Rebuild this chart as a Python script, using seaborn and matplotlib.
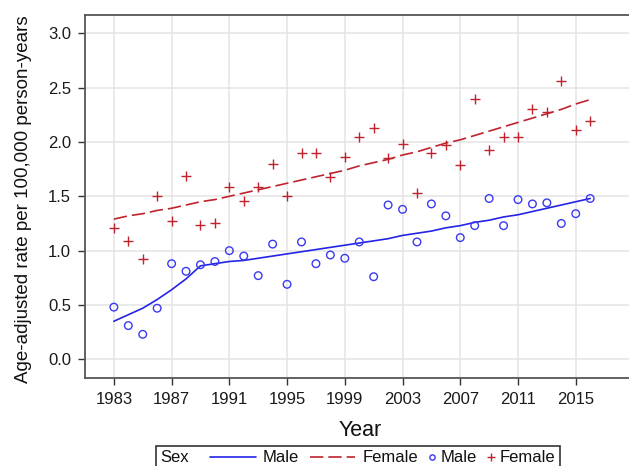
import matplotlib
matplotlib.use("Agg")
import matplotlib.pyplot as plt
import seaborn as sns
import numpy as np
import pandas as pd
from matplotlib.lines import Line2D
from matplotlib.offsetbox import HPacker, TextArea, DrawingArea, AnchoredOffsetbox

sns.set_style("white")
plt.rcParams['font.family'] = ['Liberation Sans', 'DejaVu Sans']

years = list(range(1983, 2017))

male_obs = [0.48, 0.31, 0.23, 0.47, 0.88, 0.81, 0.87, 0.90, 1.00, 0.95,
            0.77, 1.06, 0.69, 1.08, 0.88, 0.96, 0.93, 1.08, 0.76, 1.42,
            1.38, 1.08, 1.43, 1.32, 1.12, 1.23, 1.48, 1.23, 1.47, 1.43,
            1.44, 1.25, 1.34, 1.48]
female_obs = [1.21, 1.09, 0.92, 1.50, 1.27, 1.69, 1.24, 1.25, 1.59, 1.46,
              1.59, 1.80, 1.50, 1.90, 1.90, 1.68, 1.86, 2.05, 2.13, 1.85,
              1.98, 1.53, 1.90, 1.97, 1.79, 2.40, 1.93, 2.05, 2.05, 2.30,
              2.28, 2.56, 2.11, 2.19]
male_fit = [0.35, 0.41, 0.47, 0.55, 0.64, 0.74, 0.86, 0.88, 0.90, 0.91,
            0.93, 0.95, 0.97, 0.99, 1.01, 1.03, 1.05, 1.07, 1.09, 1.11,
            1.14, 1.16, 1.18, 1.21, 1.23, 1.26, 1.28, 1.31, 1.33, 1.36,
            1.39, 1.42, 1.45, 1.48]
female_fit = [1.29, 1.32, 1.34, 1.37, 1.39, 1.42, 1.45, 1.47, 1.50, 1.53,
              1.56, 1.59, 1.62, 1.65, 1.68, 1.71, 1.74, 1.78, 1.81, 1.84,
              1.88, 1.91, 1.95, 1.99, 2.02, 2.06, 2.10, 2.14, 2.18, 2.22,
              2.26, 2.30, 2.35, 2.39]

x_ticks = list(range(1983, 2016, 4))
y_ticks = [0.0, 0.5, 1.0, 1.5, 2.0, 2.5, 3.0]

MALE_C = '#2424e6'
FEMALE_C = '#c0232c'
MALE_PT = '#3a3af2'
DASH = (8, 3)

obs = pd.DataFrame({'Year': years * 2,
                    'Rate': male_obs + female_obs,
                    'Sex': ['Male'] * len(years) + ['Female'] * len(years)})
fit = pd.DataFrame({'Year': years * 2,
                    'Rate': male_fit + female_fit,
                    'Sex': ['Male'] * len(years) + ['Female'] * len(years)})

fig = plt.figure(figsize=(6.29, 4.66), dpi=100)
W, H = 629, 466
left, right, top, bottom = 85, 629, 15.3, 378.3
ax = fig.add_axes([left / W, 1 - bottom / H, (right - left) / W, (bottom - top) / H])

ax.grid(True, color='#e4e4e4', lw=1.1, zorder=0)
ax.set_axisbelow(True)

sns.lineplot(data=fit, x='Year', y='Rate', hue='Sex', style='Sex',
             palette={'Male': MALE_C, 'Female': FEMALE_C},
             dashes={'Male': '', 'Female': DASH},
             lw=1.2, legend=False, ax=ax, zorder=3)
sns.scatterplot(data=obs[obs.Sex == 'Male'], x='Year', y='Rate', marker='o',
                s=30, facecolor='none', edgecolor=MALE_PT, linewidth=1.0,
                legend=False, ax=ax, zorder=4)
sns.scatterplot(data=obs[obs.Sex == 'Female'], x='Year', y='Rate', marker='+',
                s=42, color=FEMALE_C, linewidth=1.0,
                legend=False, ax=ax, zorder=4)

ax.set_xlim(1981.0, 2018.69)
ax.set_ylim(-0.175, 3.166)
ax.set_xticks(x_ticks)
ax.set_xticklabels([str(t) for t in x_ticks])
ax.set_yticks(y_ticks)
ax.set_yticklabels([f'{t:.1f}' for t in y_ticks])
ax.tick_params(axis='both', direction='out', length=5, width=1.0, color='#333333',
               labelsize=12, labelcolor='#1a1a1a', pad=5, bottom=True, left=True)

for s in ['left', 'top', 'bottom']:
    ax.spines[s].set_color('#555555')
    ax.spines[s].set_linewidth(1.3)
ax.spines['right'].set_visible(False)

ax.set_xlabel('Year', fontsize=15.5, color='#111111')
ax.xaxis.label.set_va('center')
ax.xaxis.set_label_coords((360 - left) / (right - left), (bottom - 431) / (bottom - top))
ax.set_ylabel('Age-adjusted rate per 100,000 person-years', fontsize=13.5, color='#111111')
ax.yaxis.label.set_va('center')
ax.yaxis.set_label_coords((24 - left) / (right - left), (bottom - 199) / (bottom - top))

# legend strip
fs = 12
tp = dict(fontsize=fs, color='#111111')


def line_handle(color, dashes, width=33):
    da = DrawingArea(width, 8, 0, 0)
    ln = Line2D([0, width], [4, 4], color=color, lw=1.2)
    if dashes:
        ln.set_dashes(dashes)
    da.add_artist(ln)
    return da


def marker_handle(marker, color):
    da = DrawingArea(5, 8, 0, 0)
    da.add_artist(Line2D([2.5], [4], marker=marker,
                         markersize=3.8 if marker == 'o' else 5.5, lw=0,
                         markeredgewidth=1.0, markeredgecolor=color,
                         markerfacecolor='none'))
    return da


def entry(h, label, sep):
    return HPacker(children=[h, TextArea(label, textprops=tp)], align='center', pad=0, sep=sep)


items = HPacker(children=[
    entry(line_handle(MALE_C, None), 'Male', 5),
    entry(line_handle(FEMALE_C, DASH), 'Female', 5),
    entry(marker_handle('o', MALE_PT), 'Male', 4),
    entry(marker_handle('+', FEMALE_C), 'Female', 4),
], align='center', pad=0, sep=7.5)
row = HPacker(children=[TextArea('Sex', textprops=tp), items],
              align='center', pad=0, sep=15.5)
box = AnchoredOffsetbox(loc='upper center', child=row, pad=0.3, borderpad=0, frameon=True,
                        bbox_to_anchor=(357.8 / W, 1 - 445.5 / H), bbox_transform=fig.transFigure)
box.patch.set_edgecolor('#333333')
box.patch.set_linewidth(1.2)
box.patch.set_boxstyle('square', pad=0)
fig.add_artist(box)

fig.savefig('out.png', dpi=100)
